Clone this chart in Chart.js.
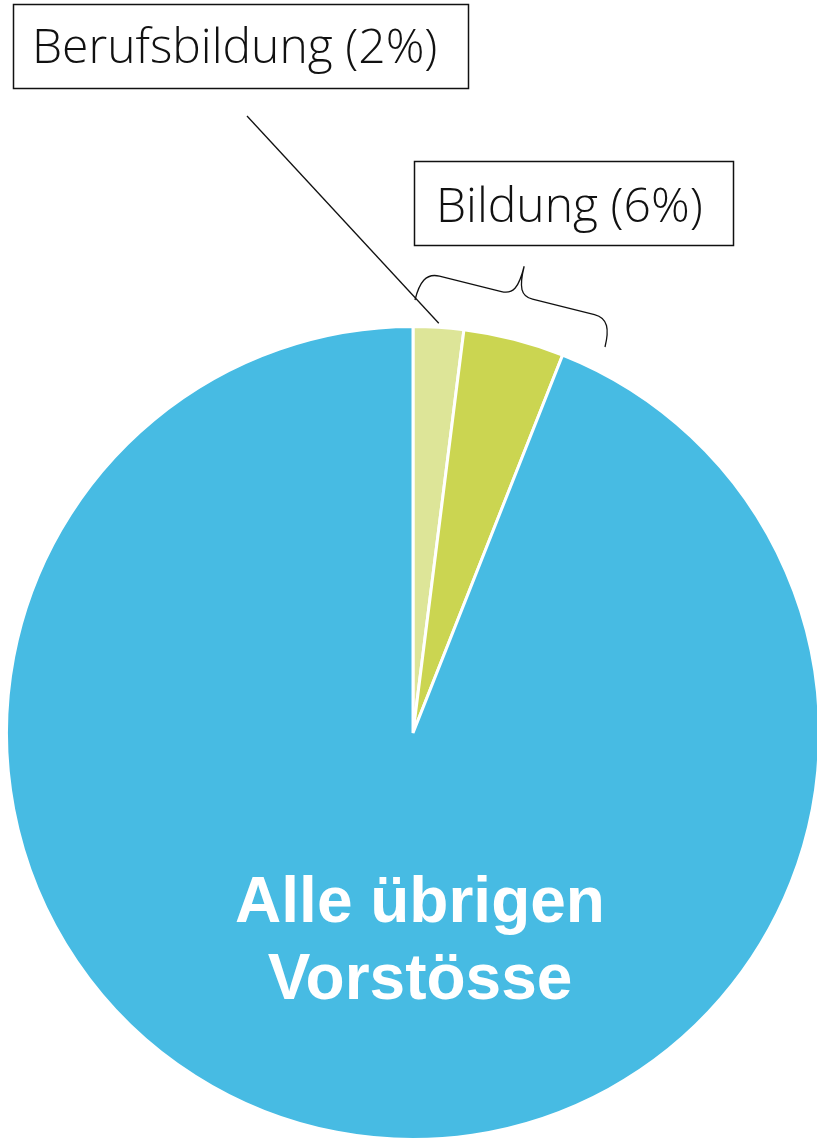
<!DOCTYPE html>
<html>
<head>
<meta charset="utf-8">
<script src="https://cdn.jsdelivr.net/npm/chart.js@4/dist/chart.umd.min.js"></script>
<style>
  html, body { margin: 0; padding: 0; background: #fff; overflow: hidden; }
  #wrap { position: relative; width: 817px; height: 1143px; overflow: hidden; }
  #pie { position: absolute; left: 0; top: 0; }
</style>
</head>
<body>
<div id="wrap"><canvas id="pie" width="830" height="1143"></canvas></div>
<script>
// data
const categories = ["Berufsbildung", "Bildung", "Alle übrigen Vorstösse"];
const shares = [2, 4, 94];
const sliceColors = ["#dde598", "#cbd551", "#47bbe3"];
const boxLabels = ["Berufsbildung (2%)", "Bildung (6%)"];
const insideLabel = ["Alle übrigen", "Vorstösse"];

// callouts, brace and inner label
const annotations = {
  id: "annotations",
  afterDraw(chart) {
    const ctx = chart.ctx;
    const arcs = chart.getDatasetMeta(0).data;
    const cx = arcs[0].x, cy = arcs[0].y, r = arcs[0].outerRadius;

    ctx.save();
    ctx.strokeStyle = "#111";
    ctx.fillStyle = "#111";

    // label boxes
    ctx.lineWidth = 1.5;
    ctx.font = '300 48px "Open Sans", "Noto Sans", sans-serif';
    ctx.textBaseline = "alphabetic";
    ctx.textAlign = "left";
    ctx.strokeRect(13.5, 4.5, 455, 84);
    ctx.fillText(boxLabels[0], 32, 63);
    ctx.strokeRect(414.5, 161.5, 319, 84);
    ctx.fillText(boxLabels[1], 436, 222);

    // leader line to Berufsbildung slice
    const a0 = arcs[0];
    const mid = (a0.startAngle + a0.endAngle) / 2;
    ctx.lineWidth = 1.3;
    ctx.beginPath();
    ctx.moveTo(247, 116);
    ctx.lineTo(cx + Math.cos(mid) * (r + 4), cy + Math.sin(mid) * (r + 4));
    ctx.stroke();

    // curly brace over both Bildung slices
    const A = { x: 415, y: 300 }, B = { x: 605, y: 347 };
    const L = Math.hypot(B.x - A.x, B.y - A.y);
    const ux = (B.x - A.x) / L, uy = (B.y - A.y) / L;
    const nx = uy, ny = -ux; // outward normal
    const P = (s, h) => [A.x + ux * s + nx * h, A.y + uy * s + ny * h];
    const d = 29, tip = 59, half = L / 2;
    ctx.lineWidth = 1.3;
    ctx.beginPath();
    ctx.moveTo(...P(0, 0));
    ctx.bezierCurveTo(...P(0, 18), ...P(4, d), ...P(18, d));
    ctx.lineTo(...P(half - 16, d));
    ctx.bezierCurveTo(...P(half - 4, d), ...P(half, d + 8), ...P(half, tip));
    ctx.bezierCurveTo(...P(half, d + 8), ...P(half + 4, d), ...P(half + 16, d));
    ctx.lineTo(...P(L - 18, d));
    ctx.bezierCurveTo(...P(L - 4, d), ...P(L, 18), ...P(L, 0));
    ctx.stroke();

    // label inside the big slice
    ctx.fillStyle = "#ffffff";
    ctx.font = 'bold 64px "Liberation Sans", Arial, sans-serif';
    ctx.textAlign = "center";
    ctx.fillText(insideLabel[0], cx + 7, cy + 189);
    ctx.fillText(insideLabel[1], cx + 7, cy + 266);
    ctx.restore();
  }
};

new Chart(document.getElementById("pie"), {
  type: "pie",
  data: {
    labels: categories,
    datasets: [{
      data: shares,
      backgroundColor: sliceColors,
      borderColor: "#ffffff",
      borderWidth: 3
    }]
  },
  options: {
    responsive: false,
    animation: false,
    events: [],
    layout: { padding: { top: 325, left: 5, right: 9, bottom: 2 } },
    plugins: {
      legend: { display: false },
      tooltip: { enabled: false }
    }
  },
  plugins: [annotations]
});
</script>
</body>
</html>
